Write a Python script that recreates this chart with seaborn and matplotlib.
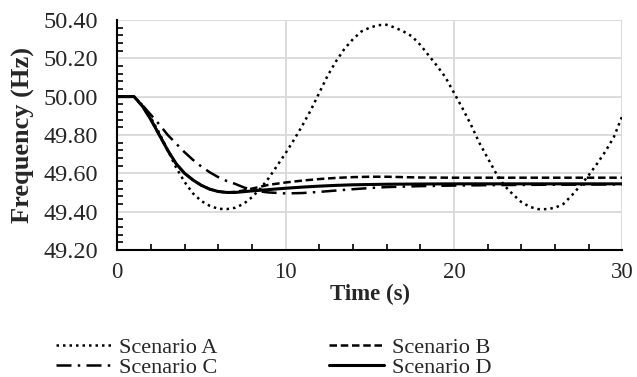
"""
plot.py

Frequency response of four scenarios, drawn as black line styles with seaborn.
"""

import matplotlib
matplotlib.use("Agg")
import matplotlib.pyplot as plt
from matplotlib.ticker import MultipleLocator, FormatStrFormatter
import seaborn as sns

# Scenario A (dotted) - undamped oscillation
TIME_A = [0, 1, 1.5, 2, 2.5, 3, 3.5, 4, 4.5, 5, 5.5, 6, 6.5, 7, 7.5, 8, 8.5, 9,
          9.5, 10, 10.5, 11, 11.5, 12, 12.5, 13, 13.5, 14, 14.5, 15, 15.5, 16,
          16.5, 17, 17.5, 18, 18.5, 19, 19.5, 20, 20.5, 21, 21.5, 22, 22.5, 23,
          23.5, 24, 24.5, 25, 25.5, 26, 26.5, 27, 27.5, 28, 28.5, 29, 29.5, 30]
FREQ_A = [50.00, 50.00, 49.955, 49.89, 49.81, 49.72, 49.63, 49.555, 49.495,
          49.455, 49.43, 49.415, 49.413, 49.42, 49.44, 49.475, 49.52, 49.575,
          49.64, 49.705, 49.775, 49.85, 49.93, 50.02, 50.11, 50.185, 50.25,
          50.30, 50.34, 50.36, 50.373, 50.375, 50.36, 50.34, 50.315, 50.27,
          50.215, 50.16, 50.10, 50.02, 49.94, 49.855, 49.76, 49.68, 49.60,
          49.535, 49.49, 49.45, 49.425, 49.413, 49.413, 49.42, 49.44, 49.485,
          49.535, 49.59, 49.65, 49.715, 49.79, 49.90]

# Scenario B (dashed)
TIME_B = [0, 1, 1.5, 2, 2.5, 3, 3.5, 4, 4.5, 5, 5.5, 6, 6.5, 7, 7.5, 8, 8.5, 9,
          10, 11, 12, 13, 14, 15, 16, 17, 18, 20, 25, 30]
FREQ_B = [50.00, 50.00, 49.95, 49.88, 49.80, 49.72, 49.65, 49.60, 49.565,
          49.537, 49.517, 49.505, 49.50, 49.503, 49.51, 49.52, 49.53, 49.54,
          49.552, 49.562, 49.57, 49.576, 49.58, 49.582, 49.582, 49.58, 49.578,
          49.577, 49.577, 49.577]

# Scenario C (dash-dot)
TIME_C = [0, 1, 1.5, 2, 2.5, 3, 3.5, 4, 4.5, 5, 5.5, 6, 6.5, 7, 7.5, 8, 8.5, 9,
          10, 11, 12, 13, 14, 15, 16, 18, 20, 22, 25, 30]
FREQ_C = [50.00, 50.00, 49.955, 49.905, 49.855, 49.80, 49.755, 49.71, 49.67,
          49.635, 49.605, 49.58, 49.56, 49.545, 49.527, 49.513, 49.505, 49.50,
          49.495, 49.497, 49.503, 49.51, 49.517, 49.523, 49.528, 49.533,
          49.536, 49.538, 49.54, 49.542]

# Scenario D (solid)
TIME_D = [0, 1, 1.5, 2, 2.5, 3, 3.5, 4, 4.5, 5, 5.5, 6, 6.5, 7, 8, 9, 10, 11,
          12, 13, 14, 16, 18, 20, 25, 30]
FREQ_D = [50.00, 50.00, 49.95, 49.88, 49.80, 49.72, 49.65, 49.60, 49.565,
          49.537, 49.517, 49.505, 49.50, 49.50, 49.508, 49.515, 49.522, 49.528,
          49.533, 49.537, 49.54, 49.543, 49.544, 49.545, 49.545, 49.545]

SERIES = [
    ("Scenario A", TIME_A, FREQ_A, (0, (1, 1.6)), 1.8),
    ("Scenario B", TIME_B, FREQ_B, (0, (3, 1.5)), 1.8),
    ("Scenario C", TIME_C, FREQ_C, (0, (6, 2.5, 1, 2.5)), 1.8),
    ("Scenario D", TIME_D, FREQ_D, "-", 2.2),
]

FONT = "Liberation Serif"
sns.set_theme(style="white", font=FONT)
plt.rcParams["font.family"] = [FONT, "DejaVu Serif"]

fig = plt.figure(figsize=(6.37, 3.77), dpi=100)
ax = fig.add_axes([0.184, 0.337, 0.793, 0.610])

for name, t, f, ls, lw in SERIES:
    sns.lineplot(x=t, y=f, ax=ax, color="black", linestyle=ls,
                 linewidth=lw, label=name, zorder=3)

ax.set_xlim(0, 30)
ax.set_ylim(49.2, 50.4)
ax.xaxis.set_major_locator(MultipleLocator(10))
ax.xaxis.set_minor_locator(MultipleLocator(2))
ax.yaxis.set_major_locator(MultipleLocator(0.2))
ax.yaxis.set_minor_locator(MultipleLocator(0.04))
ax.yaxis.set_major_formatter(FormatStrFormatter("%.2f"))

ax.grid(True, which="major", color="#d9d9d9", linewidth=1.3, zorder=0)
for side in ("top", "right"):
    ax.spines[side].set_visible(False)
for side in ("left", "bottom"):
    ax.spines[side].set_color("black")
    ax.spines[side].set_linewidth(1.5)

ax.tick_params(which="major", direction="inout", length=8, width=1.5,
               color="black")
ax.tick_params(which="minor", direction="in", length=4, width=1.2,
               color="black", bottom=True, left=True)
ax.tick_params(axis="y", which="major", labelsize=17.5, pad=10)
ax.tick_params(axis="x", which="major", labelsize=16.5, pad=5)

ax.set_xlabel("Time (s)", fontsize=16.5, fontweight="bold", labelpad=0)
ax.set_ylabel("Frequency (Hz)", fontsize=19, fontweight="bold", labelpad=6)

# matplotlib fills legend columns first: reorder so rows read A B / C D
handles, labels = ax.get_legend_handles_labels()
order = [0, 2, 1, 3]
ax.legend([handles[i] for i in order], [labels[i] for i in order],
          loc="upper center", bbox_to_anchor=(0.31, -0.33), ncol=2,
          frameon=False, handlelength=2.5, handletextpad=0.35,
          columnspacing=5.0, labelspacing=0.0, borderpad=0,
          prop={"family": FONT, "size": 16})

fig.savefig("out.png", dpi=100)
